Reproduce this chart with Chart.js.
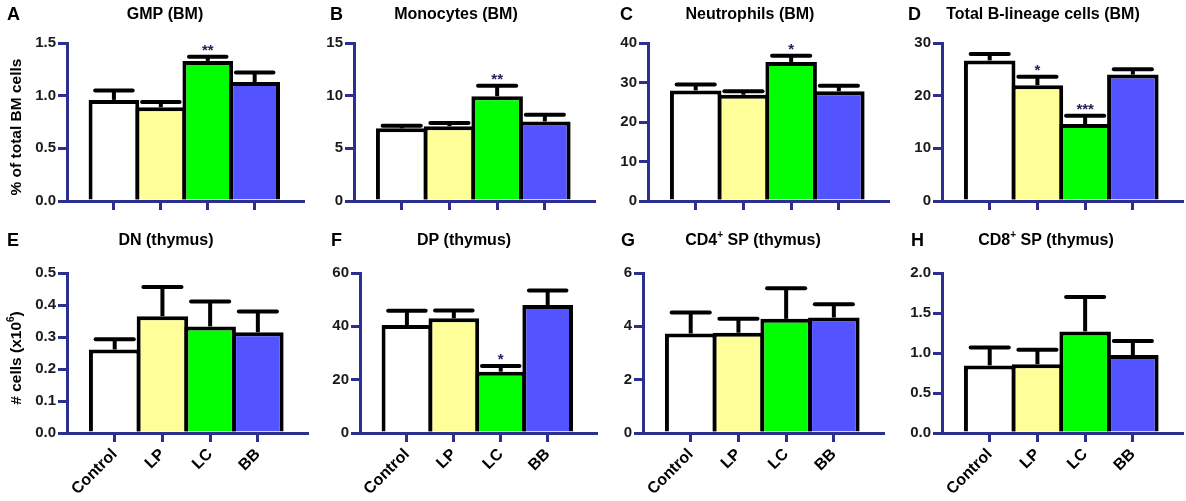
<!DOCTYPE html>
<html>
<head>
<meta charset="utf-8">
<script src="https://cdn.jsdelivr.net/npm/chart.js@4.4.1/dist/chart.umd.min.js"></script>
<style>
  body { margin: 0; background: #fff; width: 1186px; height: 501px; position: relative; overflow: hidden; }
  .panel { position: absolute; }
</style>
</head>
<body>
<div class="panel" id="wA"><canvas id="cA"></canvas></div>
<div class="panel" id="wB"><canvas id="cB"></canvas></div>
<div class="panel" id="wC"><canvas id="cC"></canvas></div>
<div class="panel" id="wD"><canvas id="cD"></canvas></div>
<div class="panel" id="wE"><canvas id="cE"></canvas></div>
<div class="panel" id="wF"><canvas id="cF"></canvas></div>
<div class="panel" id="wG"><canvas id="cG"></canvas></div>
<div class="panel" id="wH"><canvas id="cH"></canvas></div>
<script>
// groups and colours
const groups = ["Control", "LP", "LC", "BB"];
const barColors = ["#ffffff", "#ffff99", "#00ff00", "#5353ff"];

// bone marrow (mean, sem, significance)
const gmpMean = [0.96, 0.89, 1.33, 1.13];
const gmpSem = [0.09, 0.05, 0.04, 0.09];
const gmpStars = ["", "", "**", ""];

const monoMean = [6.9, 7.1, 9.95, 7.55];
const monoSem = [0.25, 0.3, 1.0, 0.65];
const monoStars = ["", "", "**", ""];

const neutroMean = [28.0, 26.9, 35.2, 27.8];
const neutroSem = [1.5, 0.9, 1.6, 1.4];
const neutroStars = ["", "", "*", ""];

const bcellMean = [26.7, 22.0, 14.6, 24.0];
const bcellSem = [1.2, 1.6, 1.6, 1.0];
const bcellStars = ["", "*", "***", ""];

// thymus
const dnMean = [0.261, 0.365, 0.333, 0.315];
const dnSem = [0.032, 0.091, 0.078, 0.065];
const dnStars = ["", "", "", ""];

const dpMean = [40.5, 43.0, 23.0, 48.0];
const dpSem = [5.3, 2.9, 2.1, 5.4];
const dpStars = ["", "", "*", ""];

const cd4Mean = [3.73, 3.76, 4.28, 4.33];
const cd4Sem = [0.79, 0.52, 1.15, 0.5];
const cd4Stars = ["", "", "", ""];

const cd8Mean = [0.845, 0.86, 1.27, 0.975];
const cd8Sem = [0.225, 0.18, 0.43, 0.175];
const cd8Stars = ["", "", "", ""];

// y axis ranges per panel: [max, step, decimals]
const gmpAxis = [1.5, 0.5, 1];
const monoAxis = [15, 5, 0];
const neutroAxis = [40, 10, 0];
const bcellAxis = [30, 10, 0];
const dnAxis = [0.5, 0.1, 1];
const dpAxis = [60, 20, 0];
const cd4Axis = [6, 2, 0];
const cd8Axis = [2.0, 0.5, 1];

const NAVY = "#2d2f8f";
const FONT = "'Liberation Sans', Arial, sans-serif";

const panels = [
  { id: "A", title: "GMP (BM)", mean: gmpMean, sem: gmpSem, stars: gmpStars, axis: gmpAxis,
    row: 0, axisX: 67, plotW: 236, letterX: 7, titleX: 165, yTitle: "% of total BM cells" },
  { id: "B", title: "Monocytes (BM)", mean: monoMean, sem: monoSem, stars: monoStars, axis: monoAxis,
    row: 0, axisX: 354, plotW: 240, letterX: 330, titleX: 456 },
  { id: "C", title: "Neutrophils (BM)", mean: neutroMean, sem: neutroSem, stars: neutroStars, axis: neutroAxis,
    row: 0, axisX: 648, plotW: 240, letterX: 620, titleX: 750 },
  { id: "D", title: "Total B-lineage cells (BM)", mean: bcellMean, sem: bcellSem, stars: bcellStars, axis: bcellAxis,
    row: 0, axisX: 942, plotW: 240, letterX: 908, titleX: 1043 },
  { id: "E", title: "DN (thymus)", mean: dnMean, sem: dnSem, stars: dnStars, axis: dnAxis,
    row: 1, axisX: 67, plotW: 240, letterX: 7, titleX: 166, yTitle: "# cells (x10^6^)" },
  { id: "F", title: "DP (thymus)", mean: dpMean, sem: dpSem, stars: dpStars, axis: dpAxis,
    row: 1, axisX: 360, plotW: 236, letterX: 331, titleX: 464 },
  { id: "G", title: "CD4^+^ SP (thymus)", mean: cd4Mean, sem: cd4Sem, stars: cd4Stars, axis: cd4Axis,
    row: 1, axisX: 643, plotW: 240, letterX: 621, titleX: 753 },
  { id: "H", title: "CD8^+^ SP (thymus)", mean: cd8Mean, sem: cd8Sem, stars: cd8Stars, axis: cd8Axis,
    row: 1, axisX: 942, plotW: 240, letterX: 911, titleX: 1046 }
];

// row geometry: canvas top, canvas height, plot top, x-axis height, title y
const rows = [
  { top: 0, height: 216, plotTop: 43, xAxisH: 15, titleY: 15 },
  { top: 225, height: 276, plotTop: 48, xAxisH: 68, titleY: 16 }
];
const Y_AXIS_W = 67;
const X_MAX = 5.03;

// text with ^sup^ parts
function richText(ctx, str, cx, cy, size) {
  const parts = str.split("^");
  const supSize = Math.round(size * 0.62);
  let total = 0;
  parts.forEach((t, i) => {
    ctx.font = "bold " + (i % 2 ? supSize : size) + "px " + FONT;
    total += ctx.measureText(t).width;
  });
  let x = cx - total / 2;
  ctx.textAlign = "left";
  ctx.textBaseline = "middle";
  parts.forEach((t, i) => {
    const sup = i % 2 === 1;
    ctx.font = "bold " + (sup ? supSize : size) + "px " + FONT;
    ctx.fillText(t, x, sup ? cy - size * 0.38 : cy);
    x += ctx.measureText(t).width;
  });
}

const errorBars = {
  id: "errorBars",
  afterDatasetsDraw(chart, args, opts) {
    const ctx = chart.ctx;
    const meta = chart.getDatasetMeta(0);
    const ys = chart.scales.y;
    ctx.save();
    meta.data.forEach((bar, i) => {
      const m = opts.mean[i], s = opts.sem[i];
      const yTop = ys.getPixelForValue(m);
      const yErr = ys.getPixelForValue(m + s);
      const capHalf = bar.width * 0.37;
      ctx.strokeStyle = "#000";
      ctx.lineWidth = 4;
      ctx.lineCap = "butt";
      ctx.beginPath();
      ctx.moveTo(bar.x, yTop);
      ctx.lineTo(bar.x, yErr);
      ctx.stroke();
      ctx.lineCap = "round";
      ctx.beginPath();
      ctx.moveTo(bar.x - capHalf, yErr);
      ctx.lineTo(bar.x + capHalf, yErr);
      ctx.stroke();
      if (opts.stars[i]) {
        ctx.fillStyle = "#22225a";
        ctx.font = "bold 15px " + FONT;
        ctx.textAlign = "center";
        ctx.textBaseline = "alphabetic";
        ctx.fillText(opts.stars[i], bar.x, yErr - 2);
      }
    });
    ctx.restore();
  }
};

const labels = {
  id: "panelLabels",
  afterDraw(chart, args, opts) {
    const ctx = chart.ctx;
    const p = opts.panel, r = rows[p.row];
    const left = p.axisX - Y_AXIS_W;
    ctx.save();
    ctx.fillStyle = "#000";
    ctx.font = "bold 18px " + FONT;
    ctx.textAlign = "left";
    ctx.textBaseline = "middle";
    ctx.fillText(p.id, p.letterX - left, r.titleY);
    richText(ctx, p.title, p.titleX - left, r.titleY, 16);
    if (p.yTitle) {
      const ca = chart.chartArea;
      ctx.translate(17, (ca.top + ca.bottom) / 2 + 5);
      ctx.rotate(-Math.PI / 2);
      richText(ctx, p.yTitle, 0, 0, 15.5);
    }
    ctx.restore();
  }
};

function makeChart(p) {
  const r = rows[p.row];
  const width = Y_AXIS_W + p.plotW + 6;
  const wrap = document.getElementById("w" + p.id);
  wrap.style.left = (p.axisX - Y_AXIS_W) + "px";
  wrap.style.top = r.top + "px";
  const canvas = document.getElementById("c" + p.id);
  canvas.width = width;
  canvas.height = r.height;
  canvas.style.width = width + "px";
  canvas.style.height = r.height + "px";

  const [yMax, yStep, yDec] = p.axis;
  const bottomRow = p.row === 1;

  return new Chart(canvas, {
    type: "bar",
    data: {
      datasets: [{
        data: p.mean.map((m, i) => ({ x: i + 1, y: m })),
        backgroundColor: barColors,
        borderColor: "#000",
        borderWidth: 4,
        borderSkipped: "start",
        barPercentage: 1.08,
        categoryPercentage: 1
      }]
    },
    options: {
      responsive: false,
      animation: false,
      devicePixelRatio: 1,
      layout: { padding: { top: r.plotTop, right: width - Y_AXIS_W - p.plotW, left: 0, bottom: 0 } },
      plugins: {
        legend: { display: false },
        tooltip: { enabled: false },
        errorBars: { mean: p.mean, sem: p.sem, stars: p.stars },
        panelLabels: { panel: p }
      },
      scales: {
        x: {
          type: "linear",
          min: 0,
          max: X_MAX,
          offset: false,
          afterBuildTicks: (axis) => { axis.ticks = groups.map((g, i) => ({ value: i + 1 })); },
          afterFit: (axis) => { axis.height = r.xAxisH; },
          grid: { offset: false, drawOnChartArea: false, drawTicks: true, tickLength: 9, color: NAVY, lineWidth: 3 },
          border: { display: true, color: NAVY, width: 3 },
          ticks: {
            display: bottomRow,
            autoSkip: false,
            minRotation: 45,
            maxRotation: 45,
            padding: 3,
            color: "#000",
            font: { family: FONT, size: 16, weight: "bold" },
            callback: (v) => groups[v - 1]
          }
        },
        y: {
          min: 0,
          max: yMax,
          afterFit: (axis) => { axis.width = Y_AXIS_W; },
          grid: { drawOnChartArea: false, drawTicks: true, tickLength: 9, color: NAVY, lineWidth: 3 },
          border: { display: true, color: NAVY, width: 3 },
          ticks: {
            stepSize: yStep,
            padding: 2,
            color: "#1a1a1a",
            font: { family: FONT, size: 15, weight: "bold" },
            callback: (v) => v.toFixed(yDec)
          }
        }
      }
    },
    plugins: [errorBars, labels]
  });
}

panels.forEach(makeChart);
</script>
</body>
</html>
